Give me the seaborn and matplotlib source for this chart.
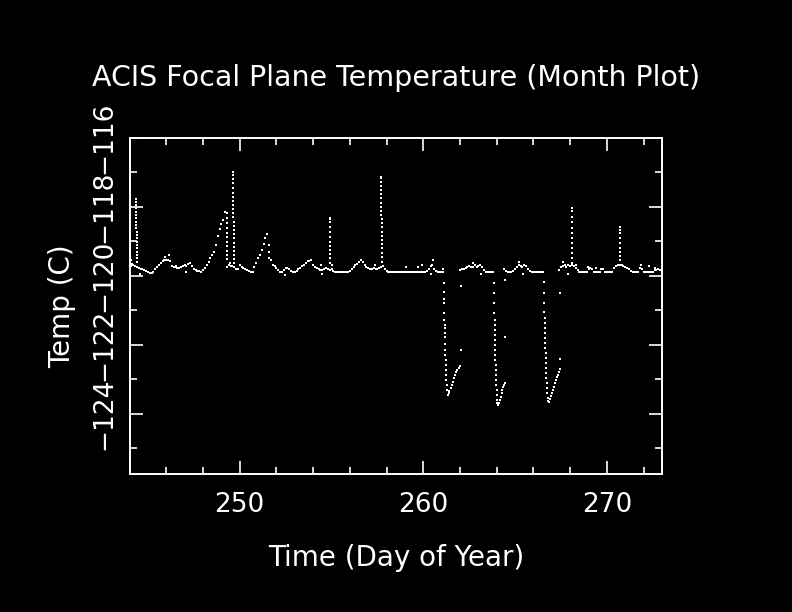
"""
ACIS focal plane temperature, month plot (day of year vs temp).
"""

import numpy as np
import pandas as pd
import matplotlib
matplotlib.use("Agg")
import matplotlib.pyplot as plt
from matplotlib.ticker import MultipleLocator
import seaborn as sns

# slow baseline, one reading every 0.1 day starting at day 244.0
base_start = 244.0
base_step = 0.1
base_temp = (
    [-119.72, -119.72, -119.70, -119.72, -119.75, -119.78, -119.80, -119.82, -119.85, -119.87]   # 244
    + [-119.90, -119.93, -119.93, -119.88, -119.82, -119.75, -119.68, -119.62, -119.57, -119.55]  # 245
    + [-119.55, -119.55, -119.57, -119.72, -119.74, -119.76, -119.78, -119.78, -119.76, -119.72]  # 246
    + [-119.70, -119.72, -119.66, -119.64, -119.72, -119.80, -119.84, -119.86, -119.87, -119.88]  # 247
    + [-119.85, -119.78, -119.70, -119.60, -119.50, -119.40, -119.30, -119.10, -118.85, -118.65]  # 248
    + [-118.50, -118.40, -118.15, -119.75, -119.70, -119.72, -119.72, -119.75, -119.80, -119.80]  # 249
    + [-119.70, -119.74, -119.78, -119.82, -119.84, -119.86, -119.88, -119.88, -119.75, -119.62]  # 250
    + [-119.50, -119.40, -119.25, -119.08, -118.92, -118.80, -119.10, -119.55, -119.68, -119.72]  # 251
    + [-119.78, -119.84, -119.88, -119.88, -119.84, -119.78, -119.77, -119.82, -119.86, -119.88]  # 252
    + [-119.88, -119.86, -119.82, -119.77, -119.72, -119.68, -119.63, -119.58, -119.57, -119.56]  # 253
    + [-119.70, -119.74, -119.78, -119.80, -119.84, -119.84, -119.80, -119.78, -119.82, -119.84]  # 254
    + [-119.80, -119.86] + [-119.88] * 8                                                          # 255
    + [-119.86, -119.80, -119.75, -119.70, -119.65, -119.60, -119.56, -119.60, -119.70, -119.76]  # 256
    + [-119.78, -119.80, -119.80, -119.78, -119.80, -119.82, -119.78, -119.75, -119.72, -119.80]  # 257
    + [-119.86] + [-119.88] * 9                                                                   # 258
    + [-119.88] * 10                                                                              # 259
    + [-119.88, -119.88, -119.86, -119.80, -119.72, -119.70, -119.80, -119.86, -119.88, -119.88]  # 260
    + [-119.88, -119.88] + [np.nan] * 8                                                           # 261
    + [-119.85, -119.80, -119.82, -119.78, -119.74, -119.72, -119.74, -119.76, -119.70, -119.74]  # 262
    + [-119.72, -119.68, -119.74, -119.84, -119.88, -119.88, -119.88, -119.88, -119.88, np.nan]   # 263
    + [np.nan] * 4 + [-119.80, -119.86, -119.88, -119.88, -119.88, -119.86]                       # 264
    + [-119.82, -119.76, -119.70, -119.72, -119.74, -119.70, -119.72, -119.80, -119.86, -119.88]  # 265
    + [-119.88] * 6 + [np.nan] * 4                                                                # 266
    + [np.nan] * 4 + [-119.85, -119.75, -119.72, -119.70, -119.75, -119.70]                       # 267
    + [-119.72, -119.68, -119.72, -119.78, -119.84] + [-119.88] * 5                               # 268
    + [-119.82, -119.78, -119.80, -119.88, -119.88, -119.88, -119.88, -119.82, -119.80, -119.88]  # 269
    + [-119.88, -119.88, -119.88, -119.88, -119.78, -119.72, -119.70, -119.68, -119.70, -119.72]  # 270
    + [-119.74, -119.78, -119.82, -119.86, -119.88, -119.88, -119.88, -119.88, -119.78, -119.80]  # 271
    + [-119.88] * 6 + [-119.84, -119.84, -119.82, -119.84]                                        # 272
    + [-119.86]                                                                                   # 273
)

# fast warm spikes (dots of the near-vertical columns)
spike_day = (
    [244.37] * 10 + [244.39] * 10
    + [249.32] * 11
    + [249.64] * 12 + [249.69] * 11
    + [254.93] * 12
    + [257.70] * 11 + [257.73] * 11
    + [268.10] * 12
    + [270.73] * 9
)
spike_temp = (
    [-117.79, -117.85, -117.95, -118.05, -118.14, -118.25, -118.34, -118.44, -118.53, -118.63,
     -118.72, -118.82, -118.92, -119.01, -119.11, -119.20, -119.30, -119.40, -119.50, -119.60]
    + [-118.19, -118.34, -118.48, -118.63, -118.75, -118.89, -119.01, -119.14, -119.28, -119.40, -119.53]
    + [-116.99, -117.08, -117.20, -117.32, -117.47, -117.59, -117.71, -117.83, -117.95, -118.08, -118.19, -118.31,
       -118.43, -118.56, -118.68, -118.79, -118.92, -119.04, -119.16, -119.28, -119.40, -119.53, -119.64]
    + [-118.34, -118.36, -118.43, -118.58, -118.72, -118.87, -119.01, -119.14, -119.26, -119.38, -119.50, -119.62]
    + [-117.13, -117.18, -117.28, -117.40, -117.51, -117.63, -117.76, -117.88, -118.00, -118.12, -118.24,
       -118.36, -118.48, -118.60, -118.72, -118.85, -118.97, -119.08, -119.20, -119.33, -119.45, -119.59]
    + [-118.05, -118.12, -118.29, -118.43, -118.63, -118.77, -118.92, -119.06, -119.21, -119.35, -119.50, -119.64]
    + [-118.60, -118.68, -118.77, -118.92, -119.06, -119.21, -119.30, -119.43, -119.55]
)

# cold dips: falling column then the recovery branch
dip_day = (
    [261.13, 261.13, 261.14, 261.14, 261.15, 261.15, 261.16, 261.16, 261.17, 261.17, 261.18,
     261.19, 261.20, 261.21, 261.22, 261.23, 261.24, 261.26, 261.28, 261.30, 261.32,
     261.36, 261.38, 261.42, 261.49, 261.55, 261.62, 261.68, 261.73, 261.80, 261.85, 261.93, 262.00]
    + [263.86, 263.86, 263.87, 263.87, 263.88, 263.88, 263.89, 263.89, 263.90, 263.90, 263.91,
       263.92, 263.93, 263.94, 263.95, 263.96, 263.97, 263.98, 263.99, 264.00, 264.02, 264.04,
       264.09, 264.12, 264.16, 264.22, 264.27, 264.31, 264.36, 264.40, 264.46]
    + [266.59, 266.59, 266.60, 266.60, 266.61, 266.61, 266.62, 266.62, 266.63, 266.64, 266.65,
       266.66, 266.67, 266.68, 266.69, 266.70, 266.71, 266.72, 266.74, 266.76, 266.78, 266.80,
       266.86, 266.90, 266.95, 267.01, 267.08, 267.14, 267.18, 267.23, 267.28, 267.32, 267.38, 267.45]
)
dip_temp = (
    [-120.22, -120.46, -120.68, -120.80, -121.09, -121.28, -121.43, -121.52, -121.67, -121.79, -121.99,
     -122.15, -122.30, -122.44, -122.59, -122.73, -122.88, -123.02, -123.17, -123.31, -123.46,
     -123.46, -123.40, -123.33, -123.26, -123.16, -123.07, -122.98, -122.88, -122.80, -122.73, -122.67, -122.62]
    + [-120.22, -120.49, -120.80, -121.07, -121.28, -121.43, -121.57, -121.72, -121.86, -122.01, -122.15,
       -122.30, -122.44, -122.59, -122.73, -122.88, -123.02, -123.17, -123.31, -123.46, -123.60, -123.70,
       -123.75, -123.68, -123.60, -123.51, -123.41, -123.31, -123.24, -123.17, -123.10]
    + [-120.17, -120.51, -120.80, -121.04, -121.24, -121.38, -121.52, -121.67, -121.82, -121.96, -122.10,
       -122.25, -122.39, -122.54, -122.68, -122.83, -122.97, -123.12, -123.26, -123.41, -123.55, -123.62,
       -123.65, -123.58, -123.50, -123.41, -123.32, -123.22, -123.12, -123.02, -122.95, -122.88, -122.80, -122.71]
)

# isolated readings
stray_day = [244.10, 244.12, 244.55, 245.95, 246.15, 246.55, 247.05, 249.45, 251.58, 251.62,
             252.44, 254.45, 254.50, 255.02, 257.35, 259.05, 259.70, 259.95, 260.41, 260.55,
             261.05, 262.04, 262.04, 262.70, 263.15, 264.46, 264.46, 265.20, 265.45, 267.45,
             267.45, 267.60, 267.90, 268.30, 268.95, 269.40, 271.85, 272.30, 272.60]
stray_temp = [-119.55, -119.65, -119.95, -119.45, -119.40, -119.72, -119.88, -119.62, -119.30, -119.50,
              -119.98, -119.70, -119.95, -119.68, -119.70, -119.76, -119.74, -119.70, -119.95, -119.55,
              -119.80, -120.30, -122.15, -119.62, -119.95, -120.12, -121.77, -119.60, -119.95, -120.50,
              -122.42, -119.60, -119.95, -119.70, -119.75, -119.78, -119.70, -119.72, -119.78]

base = pd.DataFrame({"day": base_start + base_step * np.arange(len(base_temp)), "temp": base_temp}).dropna()
fast = pd.concat([
    pd.DataFrame({"day": spike_day, "temp": spike_temp}),
    pd.DataFrame({"day": dip_day, "temp": dip_temp}),
    pd.DataFrame({"day": stray_day, "temp": stray_temp}),
])

sns.set_theme(style="ticks")
plt.rcParams.update({
    "font.family": ["DejaVu Sans"],
    "figure.facecolor": "black",
    "axes.facecolor": "black",
    "axes.edgecolor": "white",
    "text.color": "white",
    "axes.labelcolor": "white",
    "xtick.color": "white",
    "ytick.color": "white",
})

fig = plt.figure(figsize=(7.92, 6.12), dpi=100)
ax = fig.add_axes([0.1636, 0.2255, 0.6722, 0.5495])

# baseline drawn a bit heavier so it reads as a continuous band
sns.scatterplot(data=base, x="day", y="temp", ax=ax, color="white",
                marker="s", s=4.5, linewidth=0, legend=False)
sns.scatterplot(data=fast, x="day", y="temp", ax=ax, color="white",
                marker="s", s=3.5, linewidth=0, legend=False)

ax.set_xlim(244, 273)
ax.set_ylim(-125.75, -116)
ax.xaxis.set_major_locator(MultipleLocator(10))
ax.xaxis.set_minor_locator(MultipleLocator(2))
ax.yaxis.set_major_locator(MultipleLocator(2))
ax.yaxis.set_minor_locator(MultipleLocator(1))
ax.tick_params(which="both", direction="in", top=True, right=True, width=1.2, colors="white")
ax.tick_params(which="major", length=9.5, labelsize=19)
ax.tick_params(axis="x", which="major", pad=13)
ax.tick_params(axis="y", which="major", pad=9)
ax.tick_params(which="minor", length=5)
for lab in ax.get_yticklabels():
    lab.set_rotation(90)
    lab.set_va("center")
for sp in ax.spines.values():
    sp.set_linewidth(1.4)
    sp.set_color("white")

ax.set_xlabel("Time (Day of Year)", fontsize=20, labelpad=19)
ax.set_ylabel("Temp (C)", fontsize=20, labelpad=11)
ax.set_title("ACIS Focal Plane Temperature (Month Plot)", fontsize=20.5, pad=37)

fig.savefig("out.png", dpi=100, facecolor="black")
